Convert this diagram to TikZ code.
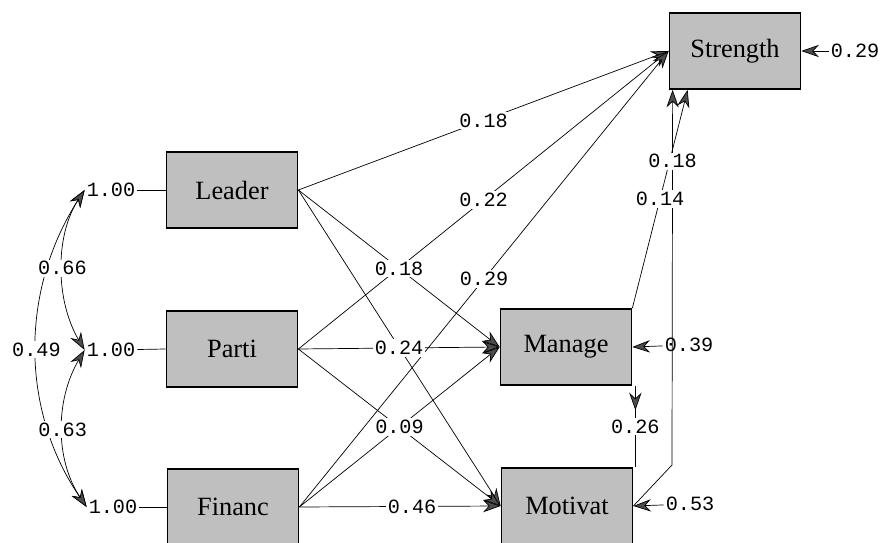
\documentclass[tikz,border=0pt]{standalone}
\usepackage{fontspec}
\setmainfont{Liberation Serif}
\setmonofont{Liberation Mono}
\usetikzlibrary{arrows.meta,calc,decorations.markings}

\begin{document}
\begin{tikzpicture}[x=0.02cm,y=-0.02cm]
\tikzstyle{var}=[rectangle,draw,line width=1pt,fill=black!25,minimum width=2.62cm,minimum height=1.52cm,font=\fontsize{15}{17}\selectfont]
\tikzstyle{coef}=[fill=white,inner sep=1pt,font=\ttfamily\fontsize{11.5}{13}\selectfont]
\tikzstyle{err}=[inner sep=1pt,font=\ttfamily\fontsize{11.5}{13}\selectfont]
\tikzstyle{link}=[thin,-{Stealth[length=10pt,width=7pt,fill=black!70]}]
\tikzstyle{cov}=[thin,{Stealth[length=10pt,width=7pt,fill=black!70]}-{Stealth[length=10pt,width=7pt,fill=black!70]}]
\tikzstyle{midlink}=[thin,postaction={decorate},decoration={markings,mark=at position 0.3 with {\arrow{Stealth[length=10pt,width=7pt,fill=black!70]}}}]

\useasboundingbox (0,0) rectangle (886,543);

\node[var] (strength) at (735,51) {Strength};
\node[var] (leader)  at (232,190) {Leader};
\node[var] (parti)   at (232,349) {Parti};
\node[var] (financ)  at (233,507) {Financ};
\node[var] (manage)  at (566,347) {Manage};
\node[var] (motivat) at (567,506) {Motivat};

% variances of the exogenous variables
\node[coef] (vl) at (111,190) {1.00};
\node[coef] (vp) at (111,350) {1.00};
\node[coef] (vf) at (113,507) {1.00};
\draw (vl) -- (leader.west);
\draw (vp) -- (parti.west);
\draw (vf) -- (financ.west);

% error variances
\node[err] (es) at (855,51)  {0.29};
\node[err] (em) at (689,345) {0.39};
\node[err] (et) at (690,504) {0.53};
\draw[link] (es) -- (strength.east);
\draw[link] (em) -- (manage.east);
\draw[link] (et) -- (motivat.east);

% covariances
\draw[cov] (vl.west) .. controls (55,235) and (55,300) .. coordinate (c1) (vp.west);
\draw[cov] (vp.west) .. controls (55,400) and (55,460) .. coordinate (c2) (vf.west);
\draw[cov] (vl.west) .. controls (20,290) and (20,410) .. coordinate (c3) (vf.west);

% paths
\draw[link] (leader.east) -- coordinate (p1) (strength.west);
\draw[link] (leader.east) -- coordinate (p2) (manage.west);
\draw[link] (leader.east) -- (motivat.west);
\draw[link] (parti.east) -- coordinate (p3) (strength.west);
\draw[link] (parti.east) -- coordinate (p4) (manage.west);
\draw[link] (parti.east) -- (motivat.west);
\draw[link] (financ.east) -- coordinate (p5) (strength.west);
\draw[link] (financ.east) -- coordinate (p6) (manage.west);
\draw[link] (financ.east) -- coordinate[pos=0.56] (p7) (motivat.west);
\draw[link] (manage.north east) -- coordinate (p8) ($(strength.south west)+(19,0)$);
\coordinate (mbend) at (672,465);
\draw[link] (motivat.east) -- (mbend) -- coordinate[pos=0.81] (p9) ($(strength.south west)+(4,0)$);
\draw[midlink] ($(manage.south east)+(3,0)$) -- coordinate (p10) ($(motivat.north east)+(2,0)$);

\node[coef] at (c1) {0.66};
\node[coef] at (c2) {0.63};
\node[coef] at (c3) {0.49};
\node[coef] at (p1) {0.18};
\node[coef] at (p2) {0.18};
\node[coef] at (p3) {0.22};
\node[coef] at (p4) {0.24};
\node[coef] at (p5) {0.29};
\node[coef] at (p6) {0.09};
\node[coef] at (p7) {0.46};
\node[coef] at (p8) {0.14};
\node[coef] at (p9) {0.18};
\node[coef] at (p10) {0.26};

\end{tikzpicture}
\end{document}
